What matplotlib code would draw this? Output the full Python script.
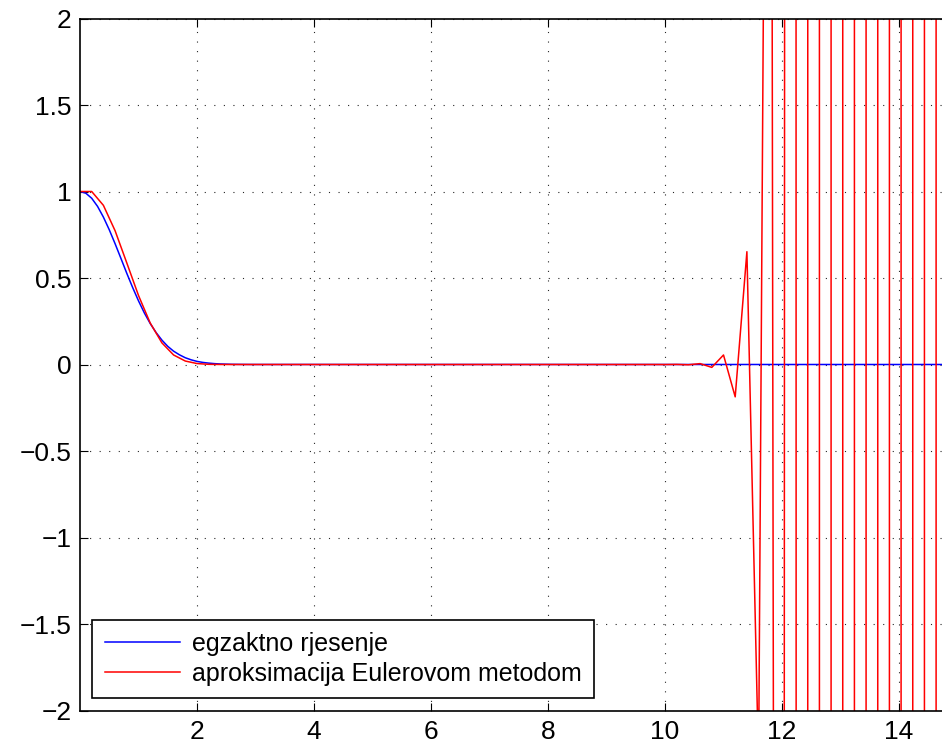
import numpy as np
import matplotlib
matplotlib.use("Agg")
import matplotlib.pyplot as plt
from matplotlib.ticker import FixedLocator, FuncFormatter

plt.rcParams['font.family'] = ['Liberation Sans', 'DejaVu Sans']

# exact solution
exact_t = [0.0, 0.1, 0.2, 0.3, 0.4, 0.5, 0.6, 0.7, 0.8, 0.9, 1.0, 1.1, 1.2, 1.3, 1.4,
           1.5, 1.6, 1.7, 1.8, 1.9, 2.0, 2.1, 2.2, 2.3, 2.4, 2.5, 2.6, 2.7, 2.8, 2.9, 3.0, 15.0]
exact_y = [1.0, 0.990, 0.961, 0.914, 0.852, 0.779, 0.698, 0.613, 0.527, 0.445, 0.368,
           0.298, 0.237, 0.185, 0.141, 0.105, 0.077, 0.056, 0.039, 0.027, 0.018, 0.012,
           0.008, 0.005, 0.003, 0.002, 0.001, 0.0007, 0.0004, 0.0002, 0.0001, 0.0]

# Euler approximation, step 0.2 from t = 0 to 15 (off-scale values estimated)
euler_y = [1.0, 1.0, 0.92, 0.773, 0.587, 0.399, 0.240, 0.125, 0.055, 0.020,   # 0.0 - 1.8
           0.0055, 0.0011, 0.00013, 0.0, 0.0, 0.0, 0.0, 0.0, 0.0, 0.0,        # 2.0 - 3.8
           0.0, 0.0, 0.0, 0.0, 0.0, 0.0, 0.0, 0.0, 0.0, 0.0,                  # 4.0 - 5.8
           0.0, 0.0, 0.0, 0.0, 0.0, 0.0, 0.0, 0.0, 0.0, 0.0,                  # 6.0 - 7.8
           0.0, 0.0, 0.0, 0.0, 0.0, 0.0, 0.0, 0.0, 0.0, 0.0,                  # 8.0 - 9.8
           -0.0002, 0.0005, -0.0016, 0.0051, -0.0166, 0.0551, -0.187, 0.652, -2.32, 8.45,  # 10.0 - 11.8
           -31.4, 119.4, -463.3, 1835.0, -7412.0, 30540.0, -1.283e5, 5.49e5, -2.393e6, 1.063e7,  # 12.0 - 13.8
           -4.80e7, 2.21e8, -1.034e9, 4.92e9, -2.38e10, 1.17e11]            # 14.0 - 15.0
euler_t = np.linspace(0.0, 15.0, len(euler_y))

xticks = [2, 4, 6, 8, 10, 12, 14]
yticks = [-2, -1.5, -1, -0.5, 0, 0.5, 1, 1.5, 2]
labels = ['egzaktno rjesenje', 'aproksimacija Eulerovom metodom']

W, H = 942, 745
fig = plt.figure(figsize=(W / 100, H / 100), dpi=100)
ax = fig.add_axes([80 / W, 34.5 / H, 877.5 / W, 692 / H])

ax.plot(exact_t, exact_y, color='#0000ff', lw=1.1, label=labels[0])
ax.plot(euler_t, euler_y, color='#ff0000', lw=1.1, label=labels[1])

ax.set_xlim(0, 15)
ax.set_ylim(-2, 2)
ax.xaxis.set_major_locator(FixedLocator(xticks))
ax.yaxis.set_major_locator(FixedLocator(yticks))
ax.yaxis.set_major_formatter(FuncFormatter(lambda v, p: ('%g' % v).replace('-', '\u2212')))
ax.xaxis.set_major_formatter(FuncFormatter(lambda v, p: '%g' % v))

ax.grid(True, color='black', lw=0.8, linestyle=(0, (1, 7.6)), alpha=0.85)
ax.tick_params(axis='both', direction='in', length=6, width=0.8, labelsize=19,
               top=True, right=True)
ax.tick_params(axis='x', pad=7)
ax.tick_params(axis='y', pad=6)
for s in ax.spines.values():
    s.set_linewidth(1.2)

leg = ax.legend(loc='lower left', bbox_to_anchor=(0.0137, 0.018), borderaxespad=0,
                fontsize=18, fancybox=False, framealpha=1, edgecolor='black',
                handlelength=3.0, handletextpad=0.5, borderpad=0.5, labelspacing=0.22)
leg.get_frame().set_linewidth(1.2)

fig.savefig('out.png', dpi=100)
